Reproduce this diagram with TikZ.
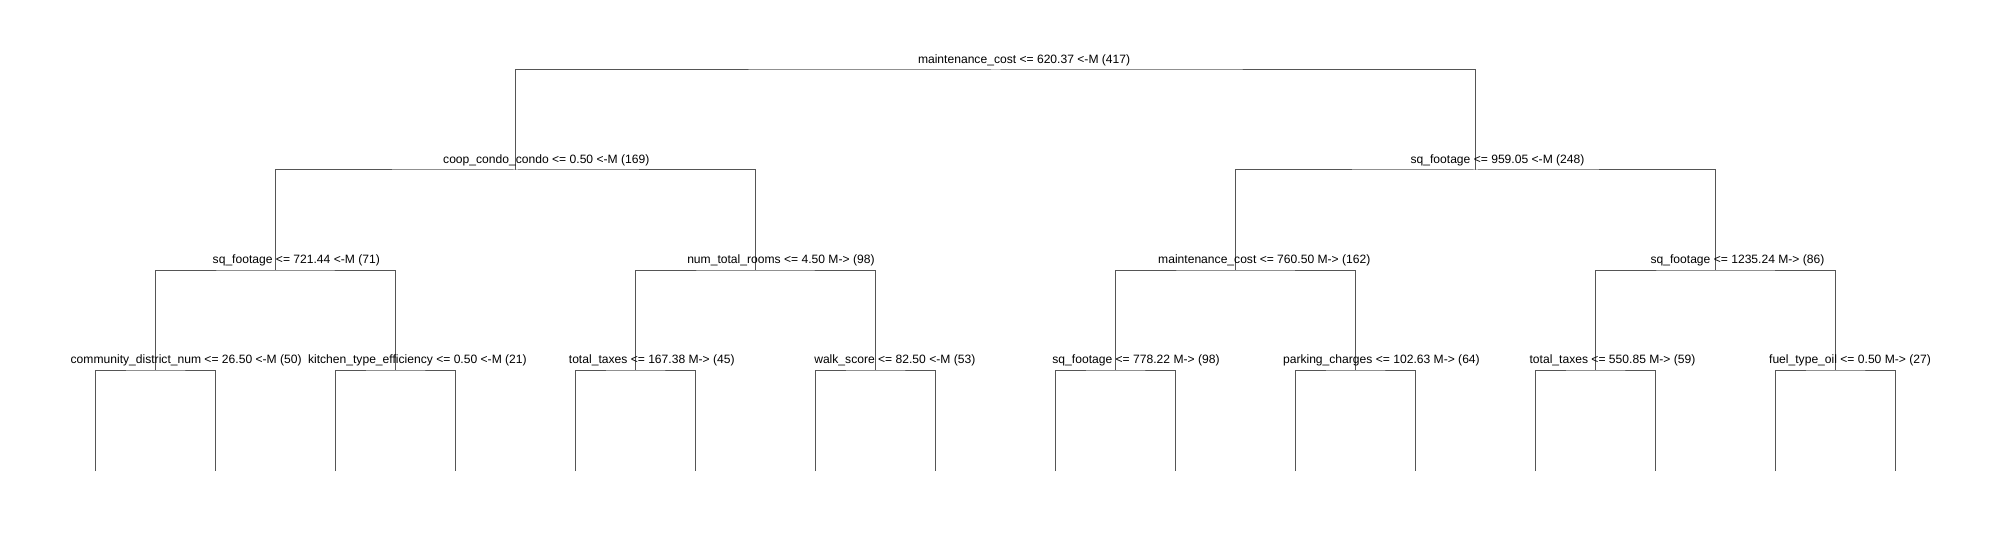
\documentclass[tikz,border=0pt]{standalone}
\usepackage{fontspec}
\setmainfont{Liberation Sans}
\definecolor{treegray}{RGB}{85,85,85}
\begin{document}
\begin{tikzpicture}
    [x=1pt,y=-1pt,
    split/.style={font=\fontsize{12.1}{14}\selectfont,anchor=base,inner sep=0pt},
    edge/.style={draw=treegray,line width=1pt}]

    \useasboundingbox (0,0) rectangle (1999,540);
    %\draw[help lines] (0,0) grid[step=100] (1999,540);

    % split points
    \coordinate (n0) at (995.7,70);
    \coordinate (n1) at (515.7,170);
    \coordinate (n2) at (1475.7,170);
    \coordinate (n3) at (275.7,270);
    \coordinate (n4) at (755.7,270);
    \coordinate (n5) at (1235.7,270);
    \coordinate (n6) at (1715.7,270);
    \coordinate (n7) at (155.7,370);
    \coordinate (n8) at (395.7,370);
    \coordinate (n9) at (635.7,370);
    \coordinate (n10) at (875.7,370);
    \coordinate (n11) at (1115.7,370);
    \coordinate (n12) at (1355.7,370);
    \coordinate (n13) at (1595.7,370);
    \coordinate (n14) at (1835.7,370);
    \foreach \i in {1,...,16}
        \coordinate (l\i) at ({-24.3+120*\i},471);

    \draw[edge] (n1) |- (n0) -| (n2);
    \draw[edge] (n3) |- (n1) -| (n4);
    \draw[edge] (n5) |- (n2) -| (n6);
    \draw[edge] (n7) |- (n3) -| (n8);
    \draw[edge] (n9) |- (n4) -| (n10);
    \draw[edge] (n11) |- (n5) -| (n12);
    \draw[edge] (n13) |- (n6) -| (n14);
    \draw[edge] (l1) |- (n7) -| (l2);
    \draw[edge] (l3) |- (n8) -| (l4);
    \draw[edge] (l5) |- (n9) -| (l6);
    \draw[edge] (l7) |- (n10) -| (l8);
    \draw[edge] (l9) |- (n11) -| (l10);
    \draw[edge] (l11) |- (n12) -| (l12);
    \draw[edge] (l13) |- (n13) -| (l14);
    \draw[edge] (l15) |- (n14) -| (l16);

    \node[split] (t0) at (1024.1,63.5) {maintenance\_cost <= 620.37 <-M (417)};
    \node[split] (t1) at (546.3,163.5) {coop\_condo\_condo <= 0.50 <-M (169)};
    \node[split] (t2) at (1497.5,163.5) {sq\_footage <= 959.05 <-M (248)};
    \node[split] (t3) at (296.3,263.5) {sq\_footage <= 721.44 <-M (71)};
    \node[split] (t4) at (780.9,263.5) {num\_total\_rooms <= 4.50 M-> (98)};
    \node[split] (t5) at (1264.3,263.5) {maintenance\_cost <= 760.50 M-> (162)};
    \node[split] (t6) at (1737.5,263.5) {sq\_footage <= 1235.24 M-> (86)};
    \node[split] (t7) at (186.2,363.5) {community\_district\_num <= 26.50 <-M (50)};
    \node[split] (t8) at (417.4,363.5) {kitchen\_type\_efficiency <= 0.50 <-M (21)};
    \node[split] (t9) at (651.8,363.5) {total\_taxes <= 167.38 M-> (45)};
    \node[split] (t10) at (894.8,363.5) {walk\_score <= 82.50 <-M (53)};
    \node[split] (t11) at (1136,363.5) {sq\_footage <= 778.22 M-> (98)};
    \node[split] (t12) at (1381.4,363.5) {parking\_charges <= 102.63 M-> (64)};
    \node[split] (t13) at (1612.5,363.5) {total\_taxes <= 550.85 M-> (59)};
    \node[split] (t14) at (1850,363.5) {fuel\_type\_oil <= 0.50 M-> (27)};
\end{tikzpicture}
\end{document}
